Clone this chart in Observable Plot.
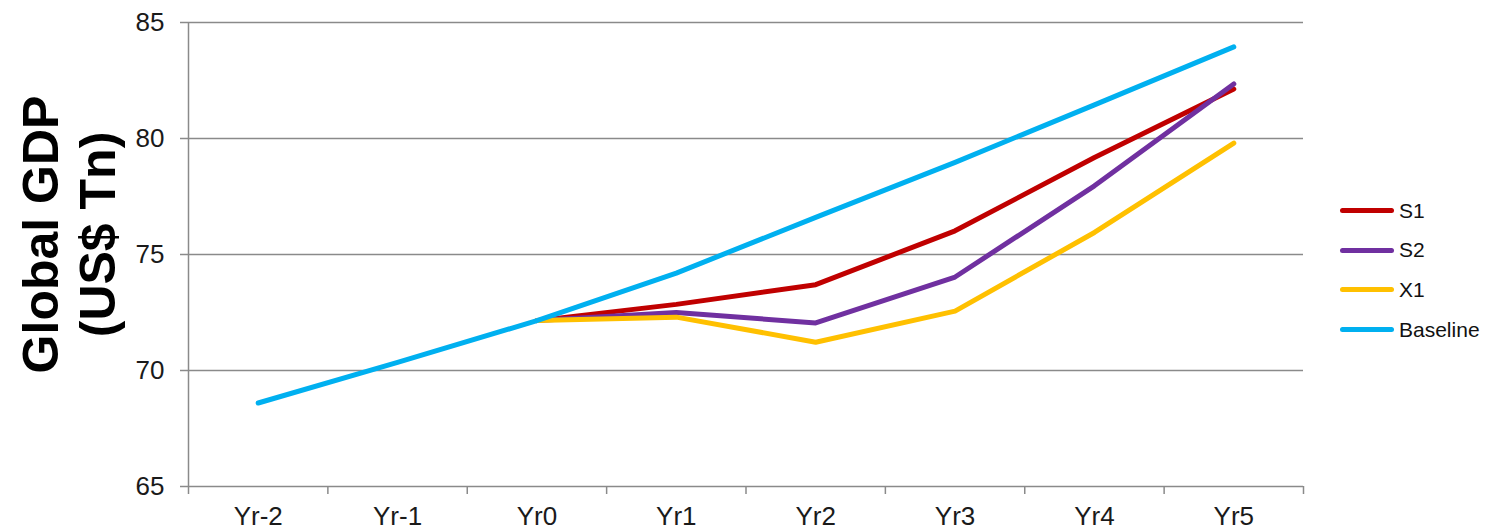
<!DOCTYPE html>
<html>
<head>
<meta charset="utf-8">
<script src="https://cdn.jsdelivr.net/npm/d3@7"></script>
<script src="https://cdn.jsdelivr.net/npm/@observablehq/plot@0.6"></script>
<style>
  html, body { margin: 0; padding: 0; background: #fff; }
  #chart { position: relative; width: 1490px; height: 528px; overflow: hidden;
           font-family: "Liberation Sans", Arial, sans-serif; }
  #legend { position: absolute; left: 1340px; top: 191px; }
  .item { display: flex; align-items: center; height: 39.6px; font-size: 21px; color: #111; }
  .swatch { width: 54px; height: 5px; border-radius: 3px; margin-right: 5px; }
</style>
</head>
<body>
<div id="chart"><div id="legend"></div></div>
<script>
// Years on the horizontal axis
const years = ["Yr-2", "Yr-1", "Yr0", "Yr1", "Yr2", "Yr3", "Yr4", "Yr5"];

// Global GDP (US$ trillions) per scenario; scenarios branch off at Yr0
const s1       = [null, null, 72.15, 72.85, 73.70, 76.02, 79.18, 82.13];
const s2       = [null, null, 72.15, 72.50, 72.05, 74.03, 77.96, 82.35];
const x1       = [null, null, 72.15, 72.30, 71.22, 72.56, 75.95, 79.80];
const baseline = [68.60, 70.35, 72.15, 74.20, 76.60, 78.97, 81.45, 83.95];

const seriesNames  = ["S1", "S2", "X1", "Baseline"];
const seriesColors = ["#C00000", "#7030A0", "#FFC000", "#00B0F0"];
const seriesValues = [s1, s2, x1, baseline];

const yTicks = [65, 70, 75, 80, 85];

// Long-format table for the line mark
const rows = [];
seriesNames.forEach((name, k) => {
  seriesValues[k].forEach((v, i) => {
    rows.push({ series: name, i, value: v == null ? NaN : v });
  });
});

const idx = years.map((_, i) => i);
const bounds = years.concat([""]).map((_, i) => i - 0.5);
const grid = "#8a8a8a";

const plot = Plot.plot({
  width: 1490,
  height: 528,
  marginLeft: 188,
  marginRight: 187,
  marginTop: 22,
  marginBottom: 42,
  style: { fontFamily: "Liberation Sans, Arial, sans-serif", background: "transparent", overflow: "visible" },
  x: { domain: [-0.5, years.length - 0.5] },
  y: { domain: [65, 85] },
  color: { domain: seriesNames, range: seriesColors },
  marks: [
    Plot.gridY({ ticks: yTicks.slice(1), stroke: grid, strokeOpacity: 1, strokeWidth: 1.5 }),
    Plot.ruleY([65], { stroke: grid, strokeWidth: 1.5 }),
    Plot.ruleX([-0.5], { stroke: grid, strokeWidth: 1.5 }),
    Plot.axisY({ ticks: yTicks, tickSize: 8, tickPadding: 16, fontSize: 26,
                 stroke: grid, strokeWidth: 1.5, fill: "#1a1a1a", label: null }),
    Plot.axisX({ ticks: bounds, tickSize: 8, tickFormat: () => "",
                 stroke: grid, strokeWidth: 1.5, label: null }),
    Plot.axisX({ ticks: idx, tickSize: 0, tickPadding: 20, fontSize: 26,
                 tickFormat: (i) => years[i], fill: "#1a1a1a", label: null }),
    Plot.line(rows, {
      x: "i", y: "value", z: "series", stroke: "series",
      strokeWidth: 5, strokeLinecap: "round", strokeLinejoin: "round"
    }),
    Plot.text(["Global GDP\n(US$ Tn)"], {
      frameAnchor: "left", rotate: -90, dx: -120, dy: -20,
      textAnchor: "middle", lineAnchor: "middle", lineHeight: 1.14,
      fontSize: 50, fontWeight: "bold", fill: "#000"
    })
  ]
});

const chart = document.getElementById("chart");
chart.insertBefore(plot, chart.firstChild);

// Legend on the right
const legend = d3.select("#legend");
seriesNames.forEach((name, k) => {
  const item = legend.append("div").attr("class", "item");
  item.append("div").attr("class", "swatch").style("background", seriesColors[k]);
  item.append("span").text(name);
});
</script>
</body>
</html>
